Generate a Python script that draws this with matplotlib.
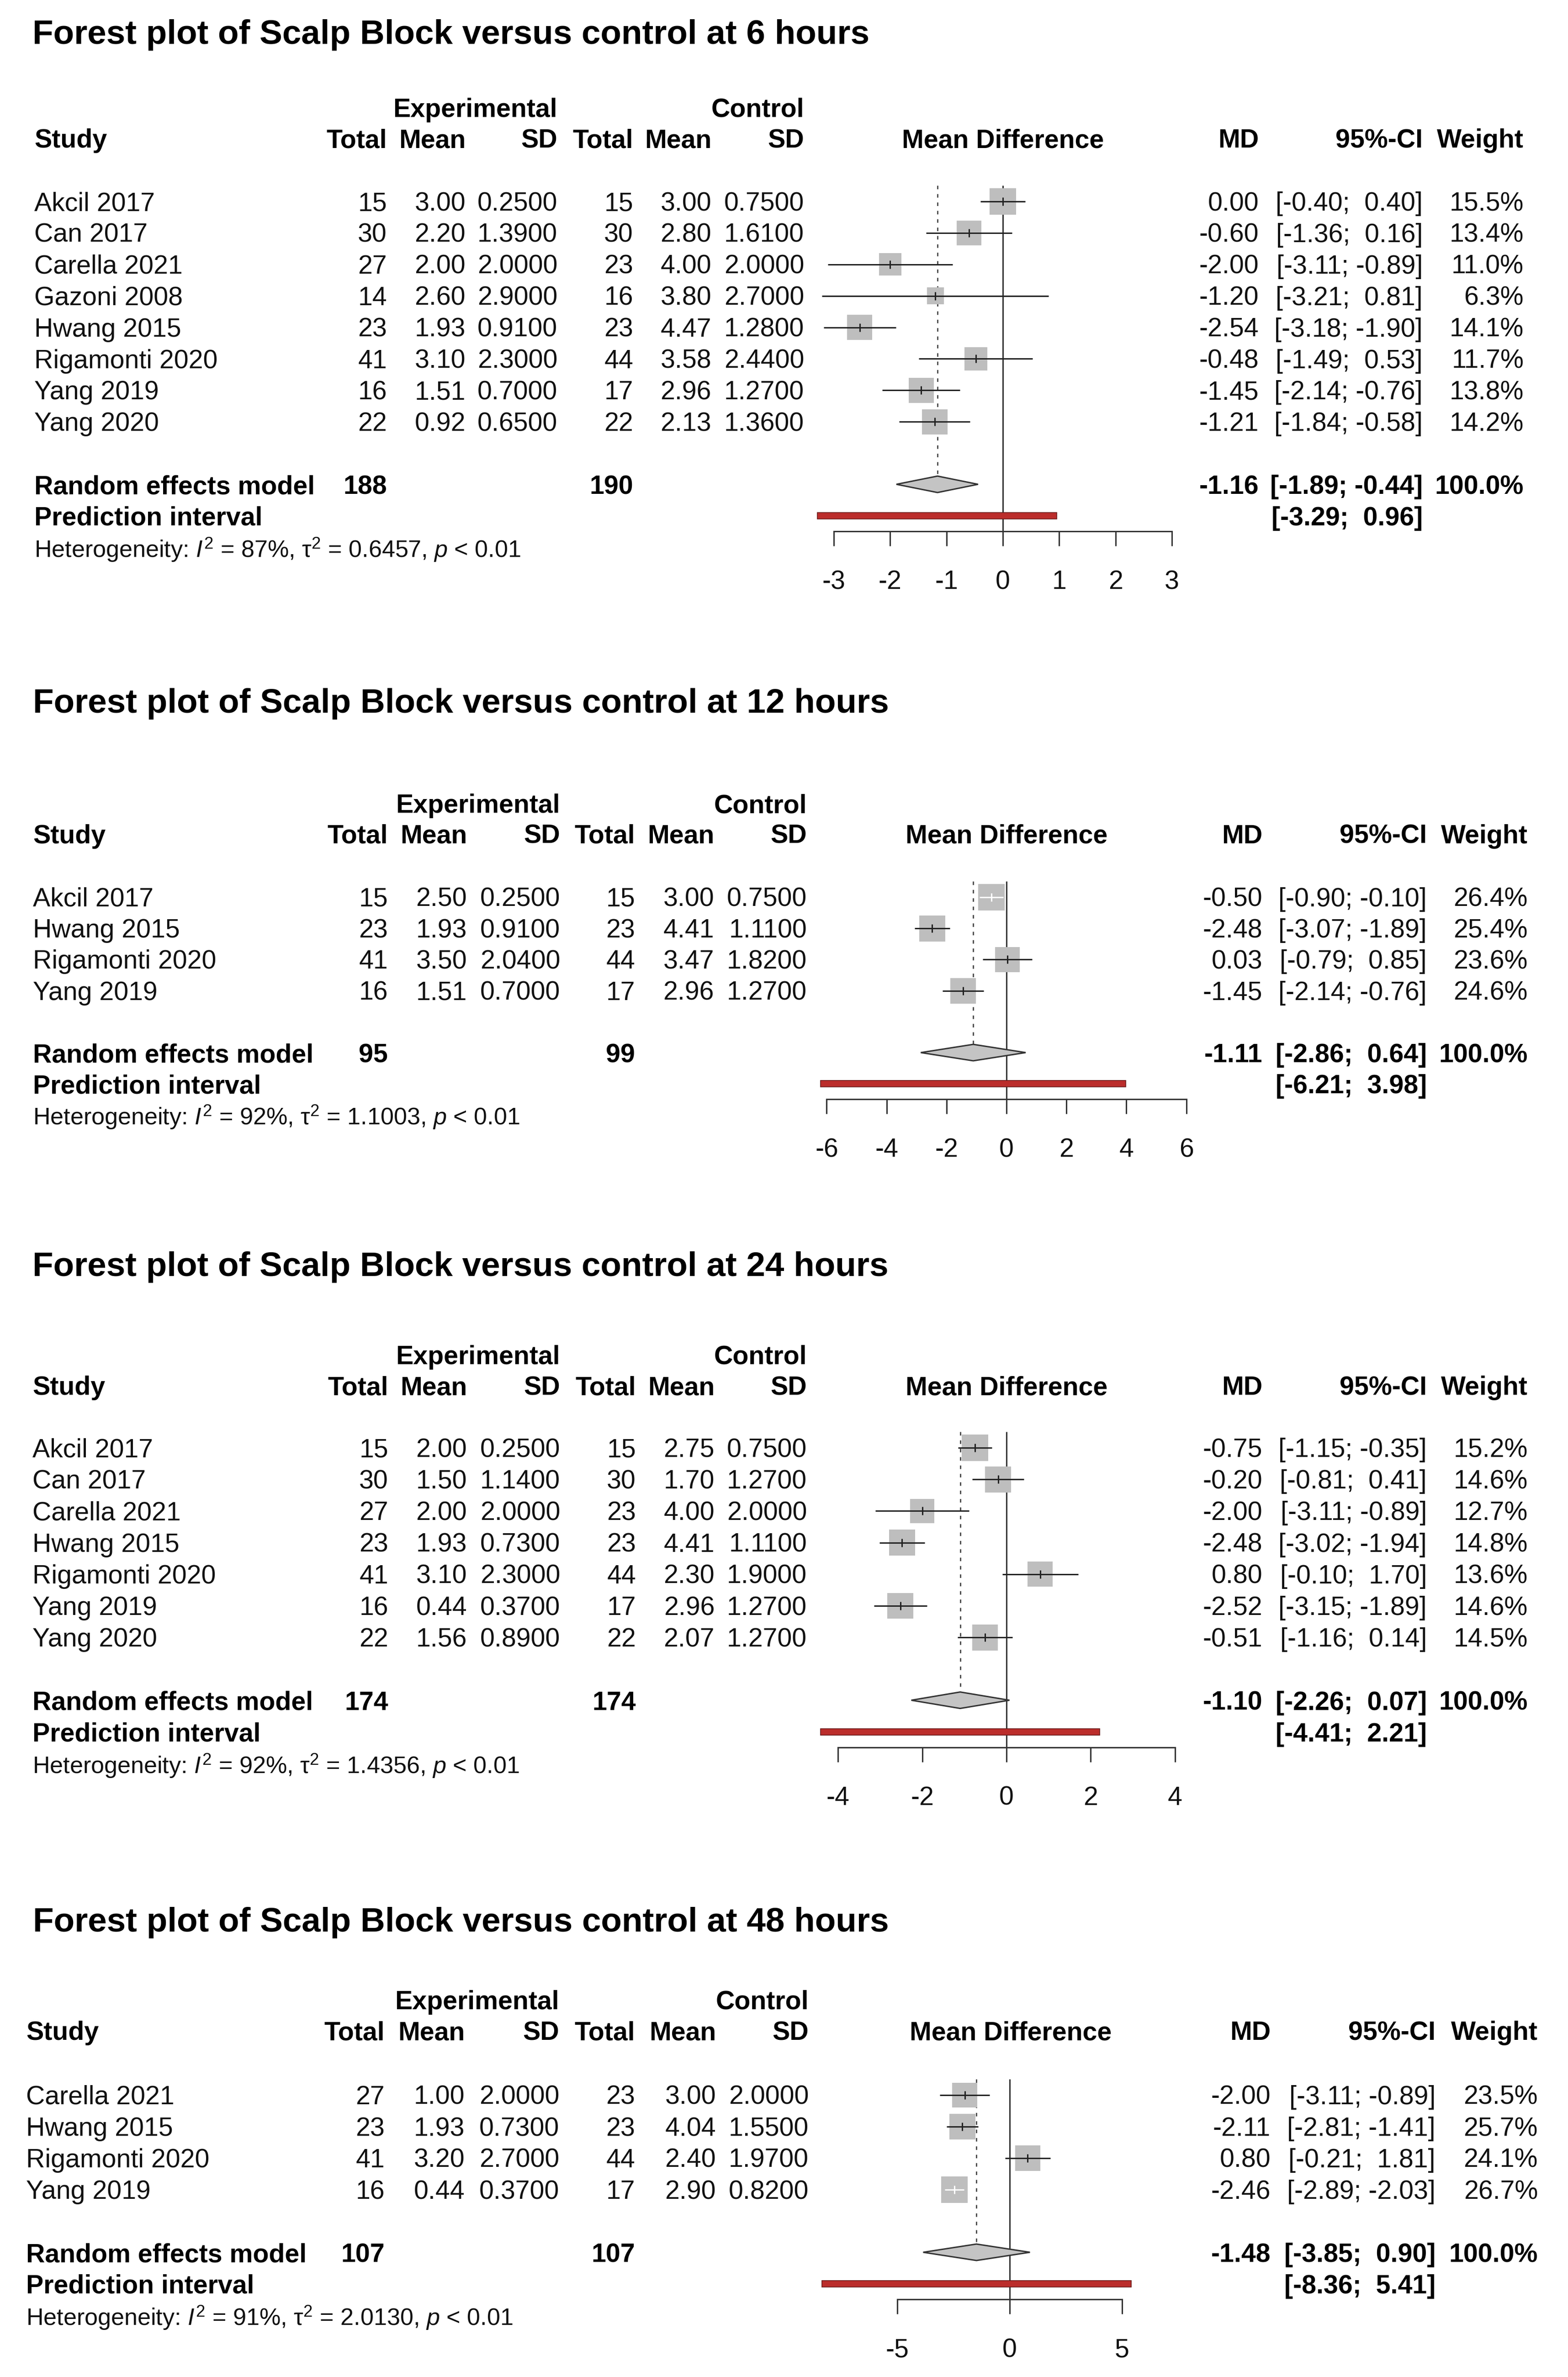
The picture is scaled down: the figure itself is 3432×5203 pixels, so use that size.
import matplotlib
matplotlib.use("Agg")
import matplotlib.pyplot as plt
from matplotlib.patches import Polygon, Rectangle
import numpy as np

plt.rcParams['font.family'] = ['Liberation Sans', 'DejaVu Sans']
plt.rcParams['mathtext.fontset'] = 'custom'
plt.rcParams['mathtext.rm'] = 'Liberation Sans'
plt.rcParams['mathtext.it'] = 'Liberation Sans:italic'
plt.rcParams['mathtext.bf'] = 'Liberation Sans:bold'
plt.rcParams['axes.unicode_minus'] = False

# ---------------- DATA ----------------
# 6 hours
title_6h = "Forest plot of Scalp Block versus control at 6 hours"
studies_6h = ["Akcil 2017", "Can 2017", "Carella 2021", "Gazoni 2008", "Hwang 2015",
              "Rigamonti 2020", "Yang 2019", "Yang 2020"]
exp_n_6h = [15, 30, 27, 14, 23, 41, 16, 22]
exp_mean_6h = [3.00, 2.20, 2.00, 2.60, 1.93, 3.10, 1.51, 0.92]
exp_sd_6h = [0.25, 1.39, 2.00, 2.90, 0.91, 2.30, 0.70, 0.65]
ctl_n_6h = [15, 30, 23, 16, 23, 44, 17, 22]
ctl_mean_6h = [3.00, 2.80, 4.00, 3.80, 4.47, 3.58, 2.96, 2.13]
ctl_sd_6h = [0.75, 1.61, 2.00, 2.70, 1.28, 2.44, 1.27, 1.36]
md_6h = [0.00, -0.60, -2.00, -1.20, -2.54, -0.48, -1.45, -1.21]
lo_6h = [-0.40, -1.36, -3.11, -3.21, -3.18, -1.49, -2.14, -1.84]
hi_6h = [0.40, 0.16, -0.89, 0.81, -1.90, 0.53, -0.76, -0.58]
w_6h = [15.5, 13.4, 11.0, 6.3, 14.1, 11.7, 13.8, 14.2]
re_n_6h = [188, 190]
re_6h = [-1.16, -1.89, -0.44]
pi_6h = [-3.29, 0.96]
het_6h = ["87%", "0.6457", "0.01"]
ticks_6h = [-3, -2, -1, 0, 1, 2, 3]

# 12 hours
title_12h = "Forest plot of Scalp Block versus control at 12 hours"
studies_12h = ["Akcil 2017", "Hwang 2015", "Rigamonti 2020", "Yang 2019"]
exp_n_12h = [15, 23, 41, 16]
exp_mean_12h = [2.50, 1.93, 3.50, 1.51]
exp_sd_12h = [0.25, 0.91, 2.04, 0.70]
ctl_n_12h = [15, 23, 44, 17]
ctl_mean_12h = [3.00, 4.41, 3.47, 2.96]
ctl_sd_12h = [0.75, 1.11, 1.82, 1.27]
md_12h = [-0.50, -2.48, 0.03, -1.45]
lo_12h = [-0.90, -3.07, -0.79, -2.14]
hi_12h = [-0.10, -1.89, 0.85, -0.76]
w_12h = [26.4, 25.4, 23.6, 24.6]
re_n_12h = [95, 99]
re_12h = [-1.11, -2.86, 0.64]
pi_12h = [-6.21, 3.98]
het_12h = ["92%", "1.1003", "0.01"]
ticks_12h = [-6, -4, -2, 0, 2, 4, 6]

# 24 hours
title_24h = "Forest plot of Scalp Block versus control at 24 hours"
studies_24h = ["Akcil 2017", "Can 2017", "Carella 2021", "Hwang 2015",
               "Rigamonti 2020", "Yang 2019", "Yang 2020"]
exp_n_24h = [15, 30, 27, 23, 41, 16, 22]
exp_mean_24h = [2.00, 1.50, 2.00, 1.93, 3.10, 0.44, 1.56]
exp_sd_24h = [0.25, 1.14, 2.00, 0.73, 2.30, 0.37, 0.89]
ctl_n_24h = [15, 30, 23, 23, 44, 17, 22]
ctl_mean_24h = [2.75, 1.70, 4.00, 4.41, 2.30, 2.96, 2.07]
ctl_sd_24h = [0.75, 1.27, 2.00, 1.11, 1.90, 1.27, 1.27]
md_24h = [-0.75, -0.20, -2.00, -2.48, 0.80, -2.52, -0.51]
lo_24h = [-1.15, -0.81, -3.11, -3.02, -0.10, -3.15, -1.16]
hi_24h = [-0.35, 0.41, -0.89, -1.94, 1.70, -1.89, 0.14]
w_24h = [15.2, 14.6, 12.7, 14.8, 13.6, 14.6, 14.5]
re_n_24h = [174, 174]
re_24h = [-1.10, -2.26, 0.07]
pi_24h = [-4.41, 2.21]
het_24h = ["92%", "1.4356", "0.01"]
ticks_24h = [-4, -2, 0, 2, 4]

# 48 hours
title_48h = "Forest plot of Scalp Block versus control at 48 hours"
studies_48h = ["Carella 2021", "Hwang 2015", "Rigamonti 2020", "Yang 2019"]
exp_n_48h = [27, 23, 41, 16]
exp_mean_48h = [1.00, 1.93, 3.20, 0.44]
exp_sd_48h = [2.00, 0.73, 2.70, 0.37]
ctl_n_48h = [23, 23, 44, 17]
ctl_mean_48h = [3.00, 4.04, 2.40, 2.90]
ctl_sd_48h = [2.00, 1.55, 1.97, 0.82]
md_48h = [-2.00, -2.11, 0.80, -2.46]
lo_48h = [-3.11, -2.81, -0.21, -2.89]
hi_48h = [-0.89, -1.41, 1.81, -2.03]
w_48h = [23.5, 25.7, 24.1, 26.7]
re_n_48h = [107, 107]
re_48h = [-1.48, -3.85, 0.90]
pi_48h = [-8.36, 5.41]
het_48h = ["91%", "2.0130", "0.01"]
ticks_48h = [-5, 0, 5]

# ---------------- LAYOUT (pixels) ----------------
W, H = 3432, 5203
FS = 41.2
FS_TITLE = 53.7
FS_HET = 37.5
TXT = '#111111'
SQ_COL = '#BEBEBE'
LINE_COL = '#222222'

layouts = [
    dict(title_x=71, title_y=96, left=75, study_y=323, row0=461, sp=68.9,
         cols=(847, 1019, 1220, 1386, 1557, 1760), md_c=2195, md_r=2755, ci_r=3114,
         w_r=3335, zero=2195, ppu=123.3),
    dict(title_x=72, title_y=1560, left=72, study_y=1846, row0=1984, sp=68.2,
         cols=(849, 1022, 1226, 1390, 1563, 1766), md_c=2203, md_r=2763, ci_r=3123,
         w_r=3344, zero=2203, ppu=65.6),
    dict(title_x=71, title_y=2793, left=71, study_y=3053, row0=3189, sp=69.2,
         cols=(850, 1022, 1226, 1392, 1564, 1766), md_c=2203, md_r=2763, ci_r=3123,
         w_r=3344, zero=2203, ppu=92.2),
    dict(title_x=72, title_y=4228, left=57, study_y=4465, row0=4606, sp=69.0,
         cols=(842, 1017, 1224, 1390, 1567, 1770), md_c=2212, md_r=2781, ci_r=3142,
         w_r=3366, zero=2210, ppu=49.2),
]

fig = plt.figure(figsize=(W / 100, H / 100), dpi=100)
ov = fig.add_axes([0, 0, 1, 1])
ov.set_xlim(0, W)
ov.set_ylim(H, 0)
ov.axis('off')


def t(x, y, s, ha='left', bold=False, size=FS, color=TXT):
    ov.text(x, y, s, ha=ha, va='baseline', fontsize=size,
            fontweight='bold' if bold else 'normal', color=color)


def ci_str(lo, hi):
    return f"[{lo:5.2f}; {hi:5.2f}]"


def draw_panel(L, title, names, en, em, es, cn, cm, cs, md, lo, hi, wt,
               re_n, re, pi, het, ticks):
    c = L['cols']
    sp = L['sp']
    t(L['title_x'], L['title_y'], title, bold=True, size=FS_TITLE, color='black')
    sy = L['study_y']
    t(c[2], sy - 67, 'Experimental', ha='right', bold=True, color='black')
    t(c[5], sy - 67, 'Control', ha='right', bold=True, color='black')
    t(L['left'], sy, 'Study', bold=True, color='black')
    for x, s in zip(c, ['Total', 'Mean', 'SD', 'Total', 'Mean', 'SD']):
        t(x, sy, s, ha='right', bold=True, color='black')
    t(L['md_c'], sy, 'Mean Difference', ha='center', bold=True, color='black')
    t(L['md_r'], sy, 'MD', ha='right', bold=True, color='black')
    t(L['ci_r'], sy, '95%-CI', ha='right', bold=True, color='black')
    t(L['w_r'], sy, 'Weight', ha='right', bold=True, color='black')

    n = len(names)
    base = [L['row0'] + i * sp for i in range(n)]
    for i in range(n):
        y = base[i]
        t(L['left'], y, names[i])
        t(c[0], y, f"{en[i]}", ha='right')
        t(c[1], y, f"{em[i]:.2f}", ha='right')
        t(c[2], y, f"{es[i]:.4f}", ha='right')
        t(c[3], y, f"{cn[i]}", ha='right')
        t(c[4], y, f"{cm[i]:.2f}", ha='right')
        t(c[5], y, f"{cs[i]:.4f}", ha='right')
        t(L['md_r'], y, f"{md[i]:.2f}", ha='right')
        t(L['ci_r'], y, ci_str(lo[i], hi[i]), ha='right')
        t(L['w_r'], y, f"{wt[i]:.1f}%", ha='right')

    re_y = base[-1] + 2 * sp
    pi_y = re_y + sp
    het_y = pi_y + sp + 1
    t(L['left'], re_y, 'Random effects model', bold=True, color='black')
    t(c[0], re_y, f"{re_n[0]}", ha='right', bold=True, color='black')
    t(c[3], re_y, f"{re_n[1]}", ha='right', bold=True, color='black')
    t(L['md_r'], re_y, f"{re[0]:.2f}", ha='right', bold=True, color='black')
    t(L['ci_r'], re_y, ci_str(re[1], re[2]), ha='right', bold=True, color='black')
    t(L['w_r'], re_y, f"{100:.1f}%", ha='right', bold=True, color='black')
    t(L['left'], pi_y, 'Prediction interval', bold=True, color='black')
    t(L['ci_r'], pi_y, ci_str(pi[0], pi[1]), ha='right', bold=True, color='black')
    het_s = (r"Heterogeneity: $I^2$ = " + het[0]
             + r", $\mathrm{\tau}^2$ = " + het[1] + r", $p$ < " + het[2])
    t(L['left'], het_y, het_s, size=FS_HET)

    # ---- forest axes ----
    zero, ppu = L['zero'], L['ppu']
    x0p, x1p = 1740, 2680
    yc = [b - 20 for b in base]
    re_c = re_y - 21
    pi_c = pi_y - 21
    axis_y = pi_y + 13
    y_top = yc[0] - 60
    y_bot = axis_y + 170
    ax = fig.add_axes([x0p / W, 1 - y_bot / H, (x1p - x0p) / W, (y_bot - y_top) / H])
    ax.set_xlim((x0p - zero) / ppu, (x1p - zero) / ppu)
    ax.set_ylim(y_bot, y_top)
    ax.patch.set_alpha(0)
    for s in ['top', 'left', 'right']:
        ax.spines[s].set_visible(False)
    ax.spines['bottom'].set_position(('data', axis_y))
    ax.spines['bottom'].set_bounds(ticks[0], ticks[-1])
    ax.spines['bottom'].set_linewidth(2.2)
    ax.spines['bottom'].set_color('#333333')
    ax.set_yticks([])
    ax.set_xticks(ticks)
    ax.set_xticklabels([str(v) for v in ticks])
    ax.tick_params(axis='x', direction='out', length=23, width=2.2, color='#333333',
                   labelsize=FS, labelcolor=TXT, pad=37.5)

    top_line = yc[0] - 35
    # reference line at zero
    ax.vlines(0, top_line, axis_y, colors='#333333', lw=2.2, zorder=1)
    # dashed line at pooled estimate
    ax.vlines(re[0], top_line, re_c - 18, colors='#444444', lw=2.0,
              linestyles=(0, (2.8, 3.8)), zorder=1)

    wmax = max(wt)
    side_px = [58.0 * np.sqrt(w / wmax) for w in wt]
    ax.scatter(md, yc, marker='s', s=[(sp_ * 0.72) ** 2 for sp_ in side_px],
               c=SQ_COL, linewidths=0, zorder=3)
    cols_line = []
    for i in range(n):
        half_ci = (hi[i] - lo[i]) / 2 * ppu
        cols_line.append('white' if half_ci < side_px[i] / 2 else LINE_COL)
    ax.hlines(yc, lo, hi, colors=cols_line, lw=2.2, zorder=4)
    ax.vlines(md, [y - 9 for y in yc], [y + 9 for y in yc], colors=cols_line, lw=2.2, zorder=4)

    # diamond
    dia = Polygon([(re[1], re_c), (re[0], re_c - 18), (re[2], re_c), (re[0], re_c + 18)],
                  closed=True, facecolor='#C4C4C4', edgecolor='#333333', lw=2.2, zorder=5)
    ax.add_patch(dia)
    # prediction interval
    ax.add_patch(Rectangle((pi[0], pi_c - 7), pi[1] - pi[0], 14, facecolor='#BB2D2B',
                           edgecolor='#6A1A1A', lw=1.2, zorder=5))


draw_panel(layouts[0], title_6h, studies_6h, exp_n_6h, exp_mean_6h, exp_sd_6h,
           ctl_n_6h, ctl_mean_6h, ctl_sd_6h, md_6h, lo_6h, hi_6h, w_6h,
           re_n_6h, re_6h, pi_6h, het_6h, ticks_6h)
draw_panel(layouts[1], title_12h, studies_12h, exp_n_12h, exp_mean_12h, exp_sd_12h,
           ctl_n_12h, ctl_mean_12h, ctl_sd_12h, md_12h, lo_12h, hi_12h, w_12h,
           re_n_12h, re_12h, pi_12h, het_12h, ticks_12h)
draw_panel(layouts[2], title_24h, studies_24h, exp_n_24h, exp_mean_24h, exp_sd_24h,
           ctl_n_24h, ctl_mean_24h, ctl_sd_24h, md_24h, lo_24h, hi_24h, w_24h,
           re_n_24h, re_24h, pi_24h, het_24h, ticks_24h)
draw_panel(layouts[3], title_48h, studies_48h, exp_n_48h, exp_mean_48h, exp_sd_48h,
           ctl_n_48h, ctl_mean_48h, ctl_sd_48h, md_48h, lo_48h, hi_48h, w_48h,
           re_n_48h, re_48h, pi_48h, het_48h, ticks_48h)

fig.savefig('out.png', dpi=100, facecolor='white')
